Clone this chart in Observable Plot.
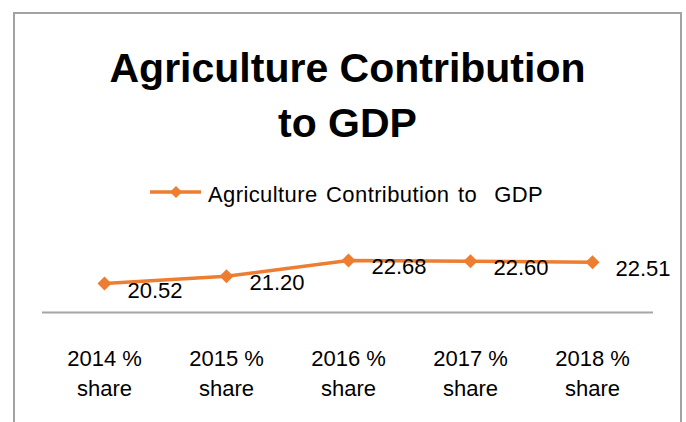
<!DOCTYPE html>
<html>
<head>
<meta charset="utf-8">
<script src="https://cdn.jsdelivr.net/npm/d3@7"></script>
<script src="https://cdn.jsdelivr.net/npm/@observablehq/plot@0.6"></script>
<style>
  html, body { margin: 0; padding: 0; background: #fff; }
  body { width: 686px; height: 422px; overflow: hidden; position: relative; font-family: "Liberation Sans", Arial, sans-serif; }
  #frame { position: absolute; left: 13px; top: 12px; width: 669px; height: 440px; box-sizing: border-box; border: 2px solid #a3a3a3; }
  #title { position: absolute; left: 14px; width: 667px; top: 41px; text-align: center; font-weight: bold; font-size: 41px; line-height: 55px; color: #000; }
  #legend { position: absolute; left: 150px; top: 180px; height: 30px; }
  #legend svg { position: absolute; left: 0; top: 0; }
  #legend span { position: absolute; left: 58px; top: 0px; white-space: pre; font-size: 22px; line-height: 30px; letter-spacing: 0.4px; word-spacing: 2px; color: #000; }
  #chart { position: absolute; left: 0; top: 230px; }
</style>
</head>
<body>
<div id="frame"></div>
<div id="title"></div>
<div id="legend"></div>
<div id="chart"></div>
<script>
const titleText = "Agriculture Contribution to GDP";
const titleLines = ["Agriculture Contribution", "to GDP"];
const seriesName = "Agriculture Contribution to  GDP";
const years = ["2014", "2015", "2016", "2017", "2018"];
const tickLabels = ["2014 %\nshare", "2015 %\nshare", "2016 %\nshare", "2017 %\nshare", "2018 %\nshare"];
const values = [20.52, 21.20, 22.68, 22.60, 22.51];
const yDomain = [17.8, 23.8];
const color = "#ED7D31";

document.getElementById("title").innerHTML = titleLines.join("<br>");

const leg = document.getElementById("legend");
leg.innerHTML = `<svg width="56" height="30"><line x1="0" x2="51" y1="12" y2="12" stroke="${color}" stroke-width="3.5"/><path d="M26,6 L32,12 L26,18 L20,12 Z" fill="${color}"/></svg><span></span>`;
leg.querySelector("span").textContent = seriesName;

const data = years.map((y, i) => ({cat: tickLabels[i], value: values[i]}));

const chart = Plot.plot({
  width: 686,
  height: 192,
  marginLeft: 42,
  marginRight: 33,
  marginTop: 18,
  marginBottom: 110,
  style: {background: "transparent", overflow: "visible", fontFamily: "'Liberation Sans', Arial, sans-serif", color: "#000"},
  x: {type: "point", domain: tickLabels, padding: 0.5, axis: null},
  y: {domain: yDomain, axis: null},
  marks: [
    Plot.ruleY([yDomain[0]], {stroke: "#a6a6a6", strokeWidth: 2}),
    Plot.line(data, {x: "cat", y: "value", stroke: color, strokeWidth: 3.5}),
    Plot.dot(data, {x: "cat", y: "value", symbol: "diamond2", r: 6.3, fill: color, stroke: "none"}),
    Plot.text(data, {x: "cat", y: "value", text: d => d.value.toFixed(2), textAnchor: "start", dx: 23, dy: 7, fontSize: 22, fill: "#000"}),
    Plot.text(tickLabels, {x: d => d, frameAnchor: "bottom", lineAnchor: "top", dy: 32, text: d => d, fontSize: 22, lineHeight: 1.36, fill: "#000"})
  ]
});
document.getElementById("chart").appendChild(chart);
</script>
</body>
</html>
